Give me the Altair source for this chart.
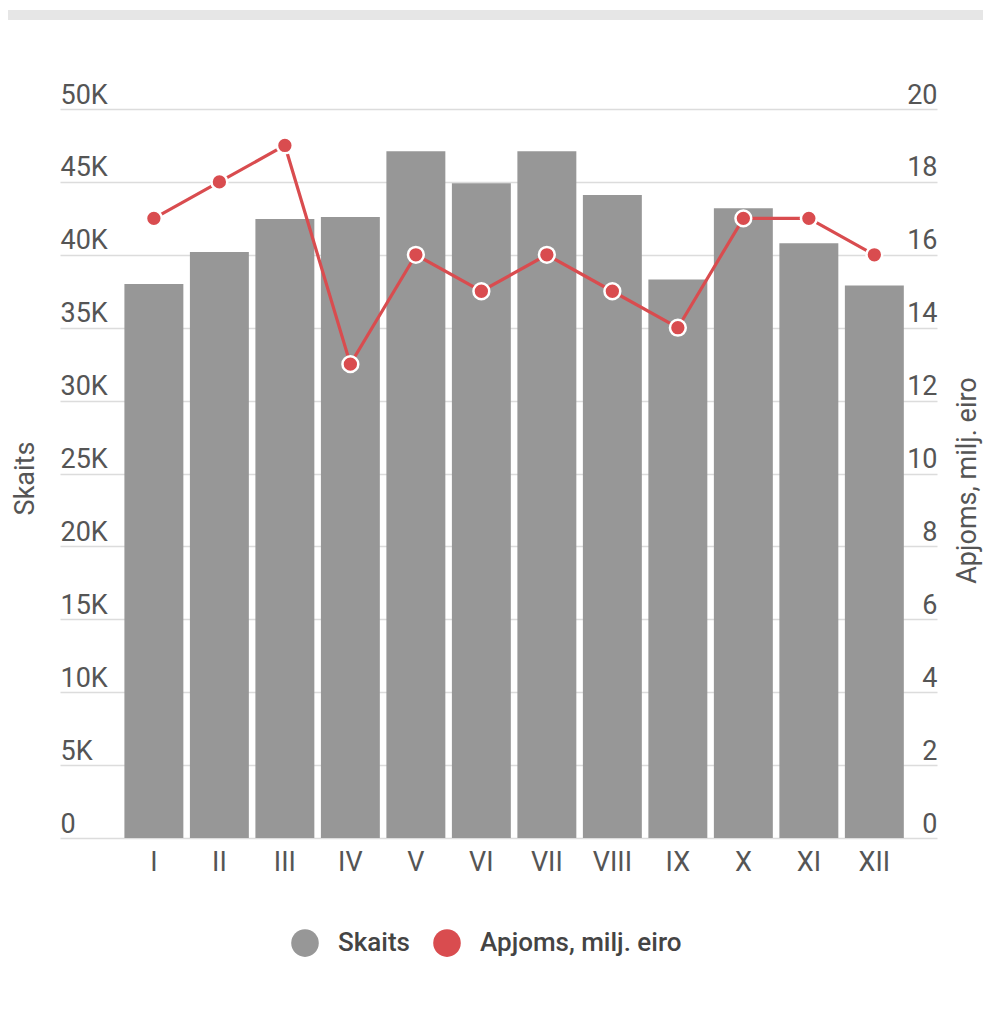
import altair as alt
import pandas as pd

months = ["I", "II", "III", "IV", "V", "VI", "VII", "VIII", "IX", "X", "XI", "XII"]
skaits = [38000, 40200, 42450, 42600, 47100, 44900, 47100, 44100, 38300, 43200, 40800, 37900]
apjoms = [17, 18, 19, 13, 16, 15, 16, 15, 14, 17, 17, 16]
series_names = ["Skaits", "Apjoms, milj. eiro"]
series_colors = ["#979797", "#d94c4f"]
left_ticks = [0, 5000, 10000, 15000, 20000, 25000, 30000, 35000, 40000, 45000, 50000]
right_ticks = [0, 2, 4, 6, 8, 10, 12, 14, 16, 18, 20]

df = pd.DataFrame({"month": months, "skaits": skaits, "apjoms": apjoms,
                   "series": [series_names[0]] * len(months)})

RED = series_colors[1]
TXT = "#555555"
FS = 27

xenc = alt.X("month:N", sort=months,
             scale=alt.Scale(paddingInner=0.1, paddingOuter=0.745, align=0.66),
             axis=alt.Axis(title=None, labelAngle=0, domain=False, ticks=False,
                           labelPadding=11, labelFontSize=FS, labelColor=TXT, grid=False))

base = alt.Chart(df)

bars = base.mark_bar().encode(
    x=xenc,
    y=alt.Y("skaits:Q", scale=alt.Scale(domain=[0, 50000], nice=False),
            axis=alt.Axis(title="Skaits", orient="left", values=left_ticks,
                          labelExpr="datum.value == 0 ? '0' : (datum.value / 1000) + 'K'",
                          domain=False, ticks=False, tickSize=0, labelPadding=0,
                          labelAlign="left", labelBaseline="alphabetic", labelOffset=-6,
                          labelFlush=False, labelFontSize=FS, labelColor=TXT,
                          grid=True, gridColor="#dcdcdc", gridWidth=1.5,
                          titleFontSize=27, titleColor=TXT, titleFontWeight="normal",
                          titleX=-35, titleY=369, titleAngle=270,
                          titleAlign="center", titleBaseline="middle")),
    color=alt.Color("series:N", scale=alt.Scale(domain=series_names, range=series_colors),
                    legend=alt.Legend(title=None, orient="none", legendX=231, legendY=820,
                                      direction="horizontal", symbolType="circle",
                                      symbolSize=760, symbolStrokeWidth=0,
                                      labelFontSize=26, labelFontWeight=500,
                                      labelColor="#444444", labelLimit=0,
                                      labelOffset=19, columnPadding=23)),
)

yright = alt.Y("apjoms:Q", scale=alt.Scale(domain=[0, 20], nice=False),
               axis=alt.Axis(title="Apjoms, milj. eiro", orient="right", values=right_ticks,
                             domain=False, ticks=False, tickSize=0, labelPadding=0,
                             labelAlign="right", labelBaseline="alphabetic", labelOffset=-6,
                             labelFlush=False, labelFontSize=FS, labelColor=TXT, grid=False,
                             titleFontSize=27, titleColor=TXT, titleFontWeight="normal",
                             titleX=30, titleY=371, titleAngle=270,
                             titleAlign="center", titleBaseline="middle"))

line = base.mark_line(color=RED, strokeWidth=3.2).encode(x=xenc, y=yright)
points = base.mark_circle(size=250, color=RED, stroke="white", strokeWidth=2.5, opacity=1).encode(
    x=xenc, y=yright)
topband = alt.Chart(df).mark_rule(color="#e6e6e6", strokeWidth=10).encode(
    x=alt.value(-52), x2=alt.value(923), y=alt.value(-94))

right = alt.layer(line, points, topband)

chart = alt.layer(bars, right).resolve_scale(y="independent").properties(
    width=877, height=729,
    padding={"left": 52, "top": 101, "right": 46, "bottom": 150},
    autosize="none",
).configure(font="Roboto").configure_view(stroke=None)

chart.save("out.html", embed_options={"renderer": "svg", "actions": False})
